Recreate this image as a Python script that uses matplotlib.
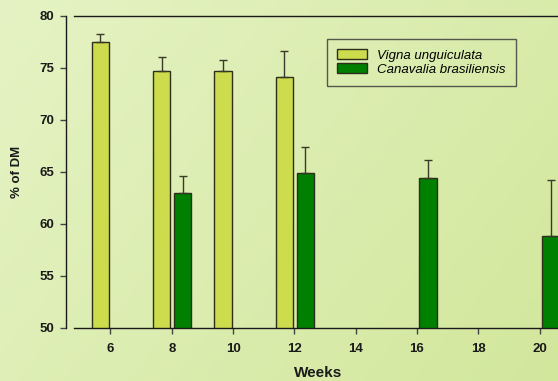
import numpy as np
import matplotlib.pyplot as plt
from matplotlib.colors import LinearSegmentedColormap

weeks_vigna = [6, 8, 10, 12]
vigna = [77.5, 74.7, 74.7, 74.1]
vigna_err = [0.8, 1.4, 1.1, 2.5]

weeks_cana = [8, 12, 16, 20]
cana = [63.0, 64.9, 64.4, 58.8]
cana_err = [1.6, 2.5, 1.8, 5.4]

xticks = [6, 8, 10, 12, 14, 16, 18, 20]
yticks = [50, 55, 60, 65, 70, 75, 80]

plt.rcParams['font.family'] = ['Liberation Sans', 'DejaVu Sans']

fig = plt.figure(figsize=(5.58, 3.81), dpi=100)

# soft green gradient behind everything
bg = fig.add_axes([0, 0, 1, 1], zorder=-10)
gx, gy = np.meshgrid(np.linspace(0, 1, 200), np.linspace(0, 1, 200))
grad = 0.65 * gx + 0.35 * gy
cmap = LinearSegmentedColormap.from_list('bg', ['#e5f3c4', '#d2e79c'])
bg.imshow(grad, cmap=cmap, aspect='auto', extent=[0, 1, 0, 1], origin='upper')
bg.axis('off')

ax = fig.add_axes([74 / 558, 53 / 381, 1 - 74 / 558, 312 / 381])
ax.patch.set_alpha(0)

w = 0.56
ec = '#2e2e1c'
errkw = dict(ecolor='#3a3a28', elinewidth=1, capsize=3.2, capthick=1)
ax.bar(np.array(weeks_vigna) - 0.33, vigna, width=w, bottom=0, color='#cddc4c',
       edgecolor=ec, linewidth=1, label='Vigna unguiculata',
       yerr=[np.zeros(len(vigna_err)), vigna_err], error_kw=errkw)
ax.bar(np.array(weeks_cana) + 0.36, cana, width=w, bottom=0, color='#008000',
       edgecolor=ec, linewidth=1, label='Canavalia brasiliensis',
       yerr=[np.zeros(len(cana_err)), cana_err], error_kw=errkw)

ax.set_xlim(4.81, 20.6)
ax.set_ylim(50, 80)
ax.set_xticks(xticks)
ax.set_yticks(yticks)

for s in ['left', 'bottom', 'top']:
    ax.spines[s].set_color('#1a1a1a')
    ax.spines[s].set_linewidth(1)
ax.spines['right'].set_visible(False)
ax.spines['left'].set_position(('outward', 6))

ax.tick_params(axis='both', direction='out', length=4, width=1, color='#444444',
               labelsize=9.5)
ax.tick_params(axis='x', pad=7)
ax.tick_params(axis='y', pad=4)
for lab in ax.get_xticklabels() + ax.get_yticklabels():
    lab.set_fontweight('bold')
    lab.set_color('#1a1a1a')

ax.set_xlabel('Weeks', fontsize=11, fontweight='bold', labelpad=8, color='#1a1a1a')
ax.xaxis.label.set_x(0.504)
ax.set_ylabel('% of DM', fontsize=9.5, fontweight='bold', labelpad=12, color='#1a1a1a')

leg = ax.legend(loc='upper left', bbox_to_anchor=(327 / 558, 1 - 39 / 381),
                bbox_transform=fig.transFigure, frameon=True, fancybox=False,
                prop={'style': 'italic', 'size': 9.5}, handlelength=2.3,
                handleheight=0.8, borderpad=0.75, labelspacing=0.12,
                handletextpad=0.75, borderaxespad=0)
leg.get_frame().set_facecolor('none')
leg.get_frame().set_edgecolor('#333333')
leg.get_frame().set_linewidth(1)

fig.savefig('out.png', dpi=100)
